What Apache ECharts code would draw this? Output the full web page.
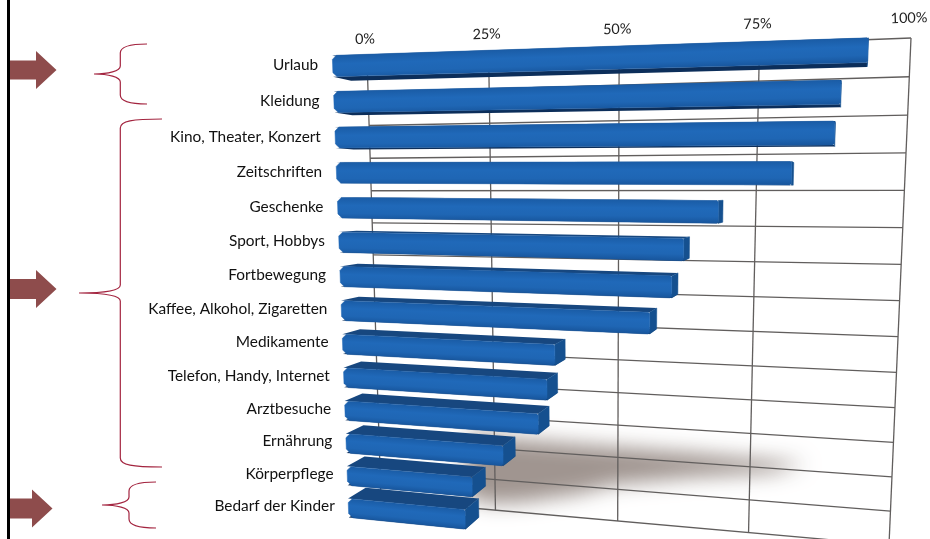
<!DOCTYPE html>
<html><head><meta charset="utf-8">
<style>html,body{margin:0;padding:0;background:#fff}#chart{width:930px;height:539px}</style>
<script src="https://cdn.jsdelivr.net/npm/echarts@6/dist/echarts.min.js"></script>
</head><body><div id="chart"></div>
<script>
// Share of households cutting back, by spending category (percent)
const categories = ['Urlaub','Kleidung','Kino, Theater, Konzert','Zeitschriften','Geschenke','Sport, Hobbys','Fortbewegung','Kaffee, Alkohol, Zigaretten','Medikamente','Telefon, Handy, Internet','Arztbesuche','Ernährung','Körperpflege','Bedarf der Kinder'];
const shares = [99,94.8,94,87,74.5,68.4,66.3,62.3,44.2,42.6,40.8,33.6,27.1,25.5];
const valueTicks = [0,25,50,75,100];
const tickLabels = ['0%','25%','50%','75%','100%'];

// Perspective: unit square -> quadrilateral [TL, TR, BR, BL]
function homography(q){
  const [x0,y0]=q[0],[x1,y1]=q[1],[x2,y2]=q[2],[x3,y3]=q[3];
  const dx1=x1-x2,dx2=x3-x2,sx=x0-x1+x2-x3,dy1=y1-y2,dy2=y3-y2,sy=y0-y1+y2-y3;
  const den=dx1*dy2-dx2*dy1;
  const g=(sx*dy2-dx2*sy)/den,h=(dx1*sy-sx*dy1)/den;
  const a=x1-x0+g*x1,b=x3-x0+h*x3,d=y1-y0+g*y1,e=y3-y0+h*y3;
  return (u,v)=>{const w=g*u+h*v+1;return [(a*u+b*v+x0)/w,(d*u+e*v+y0)/w];};
}
const wallMap = homography([[367,59],[911,38],[889,545],[381,500]]);
const barMap  = homography([[332,48],[875,29],[856,576],[349,524]]);
const vanish = [850,190], depth = 0.035;
const rowCount = categories.length;

// Data coordinates go through the cartesian axes, then onto the tilted plane
function projector(api,map){
  const o=api.coord([0,0]),e=api.coord([100,rowCount]);
  return (val,row)=>{const p=api.coord([val,row]);return map((p[0]-o[0])/(e[0]-o[0]),(p[1]-o[1])/(e[1]-o[1]));};
}
const back=p=>[p[0]+depth*(vanish[0]-p[0]),p[1]+depth*(vanish[1]-p[1])];

// Replaces a corner by two points cut back along its edges, softening the bar ends
function cut(prev,c,next,d){
  const step=(t)=>{const l=Math.hypot(t[0]-c[0],t[1]-c[1]);return [c[0]+(t[0]-c[0])*d/l,c[1]+(t[1]-c[1])*d/l];};
  return [step(prev),step(next)];
}

function renderWall(params,api){
  const P=projector(api,wallMap),kind=api.value(0),k=api.value(1);
  const a=kind===0?P(k,0):P(0,k),b=kind===0?P(k,rowCount):P(100,k);
  return {type:'line',shape:{x1:a[0],y1:a[1],x2:b[0],y2:b[1]},style:{stroke:'#615e5d',lineWidth:1.3}};
}
const shadowOutline=[[20,11.5],[27,11.65],[64,11.7],[85,11.78],[79,12.12],[64,12.45],[49.5,12.85],[42,13.25],[31,13.65],[24,13.8],[18,13.6]];
function renderShadow(params,api){
  const P=projector(api,wallMap),shift=3000;
  return {type:'polygon',shape:{points:shadowOutline.map(s=>{const p=P(s[0],s[1]);return [p[0]-shift,p[1]];})},
    style:{fill:'#000',shadowBlur:20,shadowOffsetX:shift,shadowColor:'rgba(150,138,132,0.9)'}};
}
function renderBar(params,api){
  const P=projector(api,barMap),r=api.value(0),val=api.value(1);
  const tl=P(0,r+.205),tr=P(val,r+.205),br=P(val,r+.795),bl=P(0,r+.795);
  const btl=back(tl),btr=back(tr),bbr=back(br),bbl=back(bl);
  const mt=[(tl[0]+tr[0])/2,(tl[1]+tr[1])/2];
  const len=Math.hypot(tr[0]-tl[0],tr[1]-tl[1]),nx=-(tr[1]-tl[1])/len,ny=(tr[0]-tl[0])/len;
  const h=Math.hypot(br[0]-tr[0],br[1]-tr[1]);
  const grad={type:'linear',global:true,x:mt[0],y:mt[1],x2:mt[0]+nx*h,y2:mt[1]+ny*h,
    colorStops:[{offset:0,color:'#1a5ca6'},{offset:.35,color:'#2069b9'},{offset:.7,color:'#1f66b4'},{offset:1,color:'#17559c'}]};
  const front=[...cut(bl,tl,tr,4),...cut(tl,tr,br,1.5),...cut(tr,br,bl,1.5),...cut(br,bl,tl,4)];
  return {type:'group',children:[
    {type:'polygon',shape:{points:[tl,tr,btr,btl]},style:{fill:'#17477f'}},
    {type:'polygon',shape:{points:[bl,br,bbr,bbl]},style:{fill:'#0c2e5a'}},
    {type:'polygon',shape:{points:[tr,btr,bbr,br]},style:{fill:'#15508f',stroke:'#15508f',lineWidth:.5}},
    {type:'polygon',shape:{points:front},style:{fill:grad,stroke:grad,lineWidth:.5}}
  ]};
}
const textFont='15.4px Lato';
function renderCategory(params,api){
  const P=projector(api,barMap),r=api.value(0),p=P(-3.1,r+.5);
  return {type:'text',x:p[0],y:p[1]-1,style:{text:categories[r],font:textFont,fill:'#111',align:'right',verticalAlign:'middle'}};
}
function renderTick(params,api){
  const P=projector(api,wallMap),i=api.value(0),p=P(valueTicks[i],0);
  return {type:'text',x:p[0]-2,y:p[1]-20,rotation:0.03,style:{text:tickLabels[i],font:'14.4px Lato',fill:'#222',align:'center',verticalAlign:'middle'}};
}

// Callout braces beside the three groups of categories
const braceColor='#a3243f',arrowColor='#8e4c4c';
const braceSpecs=[[120.3,94,44,74,104,147],[120.3,79,119,293,467,162],[129,102,482,505,528,156]];
function renderBrace(params,api){
  const [x,tipX,top,tip,bottom,endX]=braceSpecs[api.value(0)];
  return {type:'path',shape:{pathData:
    `M${endX} ${top}C${x+12} ${top} ${x} ${top+2} ${x} ${top+9}L${x} ${tip-8}C${x} ${tip-3} ${x-12} ${tip} ${tipX} ${tip}C${x-12} ${tip} ${x} ${tip+3} ${x} ${tip+8}L${x} ${bottom-9}C${x} ${bottom-2} ${x+12} ${bottom} ${endX} ${bottom}`},
    style:{fill:'none',stroke:braceColor,lineWidth:1.2}};
}

const wallData=[...valueTicks.map(t=>[0,t]),...Array.from({length:rowCount+1},(_,i)=>[1,i])];
const custom=(renderItem,data,z)=>({type:'custom',renderItem,data,z,silent:true,clip:false,encode:{x:-1,y:-1}});

const arrow=(baseX,headX,tipX,mid,bodyHalf,headHalf)=>({type:'polygon',shape:{points:[[baseX,mid-bodyHalf],[headX,mid-bodyHalf],[headX,mid-headHalf],[tipX,mid],[headX,mid+headHalf],[headX,mid+bodyHalf],[baseX,mid+bodyHalf]]},style:{fill:arrowColor},z:5});

const chart=echarts.init(document.getElementById('chart'),null,{renderer:'canvas'});
chart.setOption({
  animation:false,backgroundColor:'#fff',
  grid:{left:100,right:100,top:60,bottom:60},
  xAxis:{type:'value',min:0,max:100,interval:25,show:false},
  yAxis:{type:'value',min:0,max:rowCount,inverse:true,show:false},
  graphic:[
    {type:'rect',shape:{x:7,y:0,width:3,height:539},style:{fill:'#000'},z:6},
    arrow(10,36,56.5,70,9.5,19),arrow(10,36,56.5,289,10,19),arrow(10,32,52.5,508.5,10,19)
  ],
  series:[
    custom(renderShadow,[[0]],1),
    custom(renderWall,wallData,2),
    custom(renderBar,shares.map((v,i)=>[i,v]),3),
    custom(renderCategory,shares.map((v,i)=>[i,v]),4),
    custom(renderTick,valueTicks.map((t,i)=>[i,t]),4),
    custom(renderBrace,braceSpecs.map((b,i)=>[i]),4)
  ]
});
</script></body></html>
